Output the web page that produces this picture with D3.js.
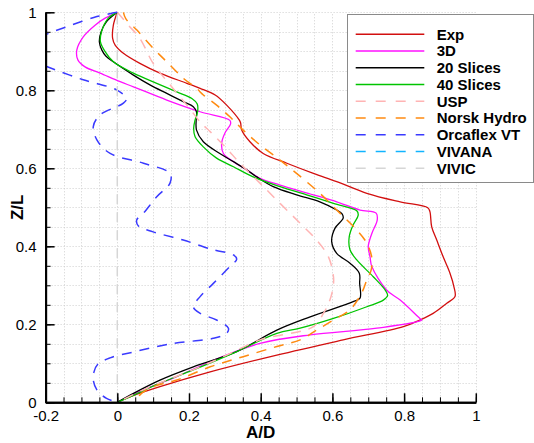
<!DOCTYPE html>
<html>
<head>
<meta charset="utf-8">
<script src="https://cdn.jsdelivr.net/npm/d3@7"></script>
<style>
  html, body { margin: 0; padding: 0; background: #fff; }
  svg { display: block; font-family: "Liberation Sans", Arial, Helvetica, sans-serif; }
</style>
</head>
<body>
<svg id="chart" width="534" height="443"></svg>
<script>
// ---------- data: [A/D, Z/L] ----------
const exp = [[0,1],[-0.011,0.967],[-0.013,0.933],[-0.006,0.916],[0.017,0.895],[0.063,0.869],[0.119,0.844],[0.194,0.818],[0.231,0.805],[0.273,0.788],[0.305,0.762],[0.340,0.724],[0.344,0.716],[0.347,0.698],[0.370,0.668],[0.407,0.638],[0.473,0.613],[0.547,0.587],[0.612,0.566],[0.696,0.536],[0.789,0.514],[0.866,0.499],[0.872,0.489],[0.877,0.450],[0.891,0.416],[0.909,0.373],[0.928,0.331],[0.939,0.296],[0.942,0.271],[0.919,0.254],[0.881,0.228],[0.844,0.211],[0.798,0.194],[0.630,0.160],[0.445,0.121],[0.259,0.078],[0.119,0.040],[0.035,0.014],[0,0]];

const d3D = [[0,1],[-0.034,0.985],[-0.062,0.967],[-0.095,0.937],[-0.113,0.903],[-0.110,0.878],[-0.090,0.860],[-0.048,0.844],[0.008,0.822],[0.045,0.809],[0.138,0.775],[0.231,0.745],[0.314,0.723],[0.316,0.714],[0.300,0.690],[0.291,0.664],[0.296,0.638],[0.324,0.617],[0.361,0.596],[0.398,0.574],[0.454,0.557],[0.547,0.532],[0.612,0.514],[0.677,0.493],[0.722,0.485],[0.725,0.467],[0.710,0.433],[0.700,0.399],[0.705,0.373],[0.710,0.348],[0.751,0.288],[0.789,0.262],[0.844,0.215],[0.849,0.211],[0.724,0.190],[0.538,0.173],[0.398,0.151],[0.259,0.104],[0.166,0.066],[0.073,0.032],[0,0]];

const slices20 = [[0,1],[-0.030,0.976],[-0.045,0.950],[-0.050,0.924],[-0.043,0.903],[-0.032,0.888],[-0.011,0.873],[0.045,0.839],[0.091,0.814],[0.138,0.792],[0.184,0.771],[0.212,0.758],[0.221,0.744],[0.220,0.724],[0.221,0.698],[0.240,0.668],[0.286,0.638],[0.324,0.617],[0.361,0.596],[0.389,0.578],[0.435,0.553],[0.500,0.532],[0.565,0.514],[0.612,0.493],[0.627,0.483],[0.630,0.472],[0.607,0.446],[0.598,0.412],[0.612,0.382],[0.650,0.356],[0.675,0.331],[0.676,0.305],[0.677,0.267],[0.658,0.258],[0.538,0.219],[0.445,0.185],[0.333,0.130],[0.212,0.091],[0.119,0.057],[0.045,0.023],[0,0]];

const slices40 = [[0,1],[-0.025,0.985],[-0.044,0.950],[-0.047,0.924],[-0.034,0.899],[-0.011,0.873],[0.045,0.844],[0.110,0.818],[0.166,0.796],[0.208,0.779],[0.223,0.765],[0.224,0.745],[0.217,0.724],[0.213,0.703],[0.217,0.681],[0.240,0.655],[0.277,0.626],[0.324,0.604],[0.379,0.578],[0.454,0.553],[0.528,0.532],[0.603,0.510],[0.668,0.491],[0.672,0.480],[0.658,0.455],[0.647,0.425],[0.649,0.391],[0.668,0.365],[0.714,0.322],[0.747,0.288],[0.754,0.274],[0.742,0.262],[0.696,0.245],[0.603,0.215],[0.510,0.190],[0.445,0.177],[0.333,0.130],[0.212,0.083],[0.119,0.049],[0.035,0.014],[0,0]];

const usp = [[0,1],[0.031,0.967],[0.063,0.933],[0.100,0.869],[0.147,0.814],[0.194,0.762],[0.235,0.715],[0.259,0.694],[0.305,0.651],[0.342,0.613],[0.398,0.562],[0.454,0.510],[0.510,0.459],[0.556,0.416],[0.589,0.373],[0.603,0.322],[0.602,0.296],[0.593,0.262],[0.575,0.228],[0.547,0.194],[0.398,0.160],[0.305,0.121],[0.221,0.087],[0.138,0.057],[0.073,0.032],[0,0]];

const norsk = [[0.017,1],[0.024,0.983],[0.054,0.955],[0.100,0.908],[0.138,0.873],[0.184,0.831],[0.221,0.805],[0.240,0.788],[0.277,0.762],[0.314,0.732],[0.351,0.698],[0.398,0.660],[0.454,0.621],[0.500,0.587],[0.565,0.536],[0.621,0.485],[0.668,0.442],[0.696,0.408],[0.710,0.370],[0.708,0.339],[0.696,0.314],[0.683,0.283],[0.649,0.237],[0.603,0.211],[0.556,0.185],[0.510,0.160],[0.445,0.143],[0.351,0.117],[0.259,0.091],[0.166,0.057],[0.100,0.040],[0.063,0.019],[0.054,0]];

const orcaflex = [[0,1],[-0.057,0.989],[-0.141,0.963],[-0.197,0.944],[-0.235,0.925],[-0.250,0.902],[-0.238,0.878],[-0.197,0.861],[-0.095,0.827],[-0.002,0.801],[0.026,0.779],[0.017,0.767],[-0.048,0.737],[-0.067,0.707],[-0.057,0.673],[-0.020,0.638],[0.073,0.613],[0.147,0.587],[0.147,0.562],[0.110,0.527],[0.073,0.485],[0.054,0.467],[0.059,0.452],[0.100,0.437],[0.184,0.416],[0.268,0.391],[0.324,0.378],[0.333,0.367],[0.314,0.348],[0.268,0.305],[0.231,0.271],[0.212,0.245],[0.231,0.228],[0.277,0.211],[0.310,0.190],[0.305,0.177],[0.268,0.164],[0.156,0.151],[0.045,0.129],[-0.020,0.114],[-0.054,0.098],[-0.065,0.078],[-0.067,0.057],[-0.057,0.032],[-0.030,0.010],[0,0]];

const vivana = [];            // not visible in the plot
const vivic = [[0,0],[0,1]];

const seriesNames = ["Exp","3D","20 Slices","40 Slices","USP","Norsk Hydro","Orcaflex VT","VIVANA","VIVIC"];
const seriesData = [exp, d3D, slices20, slices40, usp, norsk, orcaflex, vivana, vivic];
const seriesColors = ["#d20f0f","#ff10ff","#000000","#00c400","#ffb4b4","#ff8a10","#3a3aff","#10b4ff","#d6d6d6"];
const seriesDashed = [false,false,false,false,true,true,true,true,true];

const xMajor = [-0.2,0,0.2,0.4,0.6,0.8,1];
const xLabels = ["-0.2","0","0.2","0.4","0.6","0.8","1"];
const yMajor = [0,0.2,0.4,0.6,0.8,1];
const yLabels = ["0","0.2","0.4","0.6","0.8","1"];
const xTitle = "A/D", yTitle = "Z/L";

// ---------- layout ----------
const svg = d3.select("#chart");
const x = d3.scaleLinear().domain([-0.2, 1]).range([45.6, 475.8]);
const y = d3.scaleLinear().domain([0, 1]).range([402.3, 12.3]);

const minorX = d3.range(-0.2, 1.0001, 0.05).map(v => +v.toFixed(2));
const minorY = d3.range(0, 1.0001, 0.05).map(v => +v.toFixed(2));

// grid
const grid = svg.append("g").attr("stroke", "#cfcfcf").attr("stroke-width", 1).attr("stroke-dasharray", "1,2");
grid.selectAll("line.vx").data(minorX.filter(v => v > -0.2)).enter().append("line")
  .attr("x1", d => Math.round(x(d)) + 0.5).attr("x2", d => Math.round(x(d)) + 0.5)
  .attr("y1", y(0)).attr("y2", y(1));
grid.selectAll("line.hy").data(minorY.filter(v => v > 0)).enter().append("line")
  .attr("y1", d => Math.round(y(d)) + 0.5).attr("y2", d => Math.round(y(d)) + 0.5)
  .attr("x1", x(-0.2)).attr("x2", x(1));

// clip
svg.append("clipPath").attr("id", "clip").append("rect")
  .attr("x", x(-0.2)).attr("y", y(1) - 2).attr("width", x(1) - x(-0.2) + 2).attr("height", y(0) - y(1) + 2);

const line = d3.line().x(d => x(d[0])).y(d => y(d[1])).curve(d3.curveCatmullRom.alpha(0.5));
const curves = svg.append("g").attr("clip-path", "url(#clip)");
seriesData.forEach((data, i) => {
  if (!data.length) return;
  curves.append("path").datum(data).attr("d", line)
    .attr("fill", "none").attr("stroke", seriesColors[i])
    .attr("stroke-width", seriesDashed[i] ? 1.5 : 1.3)
    .attr("stroke-dasharray", seriesDashed[i] ? "10,8" : null);
});

// axes
const fontSize = 15;
const xAxisG = svg.append("g").attr("transform", `translate(0,${y(0)})`);
xAxisG.call(d3.axisBottom(x).tickValues(minorX).tickSizeInner(-5).tickSizeOuter(0).tickFormat(""));
xAxisG.call(g => g.selectAll(".tick line").attr("stroke-width", 1));
const xMajG = svg.append("g").attr("transform", `translate(0,${y(0)})`)
  .call(d3.axisBottom(x).tickValues(xMajor).tickSizeInner(-9).tickSizeOuter(0).tickPadding(8)
    .tickFormat((d, i) => xLabels[i]));
xMajG.selectAll(".tick line").attr("stroke-width", 1.5);

const yAxisG = svg.append("g").attr("transform", `translate(${x(-0.2)},0)`);
yAxisG.call(d3.axisLeft(y).tickValues(minorY).tickSizeInner(-5).tickSizeOuter(0).tickFormat(""));
const yMajG = svg.append("g").attr("transform", `translate(${x(-0.2)},0)`)
  .call(d3.axisLeft(y).tickValues(yMajor).tickSizeInner(-9).tickSizeOuter(0).tickPadding(9)
    .tickFormat((d, i) => yLabels[i]));
yMajG.selectAll(".tick line").attr("stroke-width", 1.5);

svg.selectAll(".domain").attr("stroke", "#000").attr("stroke-width", 2);
svg.selectAll(".tick text").attr("font-size", fontSize).attr("fill", "#000")
  .attr("font-family", '"Liberation Sans", Arial, sans-serif');

// axis titles
svg.append("text").attr("x", (x(-0.2) + x(1)) / 2).attr("y", 437.5)
  .attr("text-anchor", "middle").attr("font-weight", "bold").attr("font-size", 17).text(xTitle);
svg.append("text").attr("transform", `translate(23,${(y(0) + y(1)) / 2}) rotate(-90)`)
  .attr("text-anchor", "middle").attr("font-weight", "bold").attr("font-size", 17).text(yTitle);

// legend
const lg = svg.append("g");
lg.append("rect").attr("x", 347.5).attr("y", 14.5).attr("width", 186).attr("height", 168)
  .attr("fill", "#fff").attr("stroke", "#8a8a8a").attr("stroke-width", 1);
seriesNames.forEach((name, i) => {
  const yy = 34.3 + i * 16.75;
  lg.append("line").attr("x1", 355.7).attr("x2", 424.3).attr("y1", yy).attr("y2", yy)
    .attr("stroke", seriesColors[i]).attr("stroke-width", 1.6)
    .attr("stroke-dasharray", seriesDashed[i] ? "10,10" : null);
  lg.append("text").attr("x", 436.7).attr("y", yy + 5.4).attr("font-size", 15)
    .attr("font-weight", "bold").attr("fill", "#000").text(name);
});
</script>
</body>
</html>
